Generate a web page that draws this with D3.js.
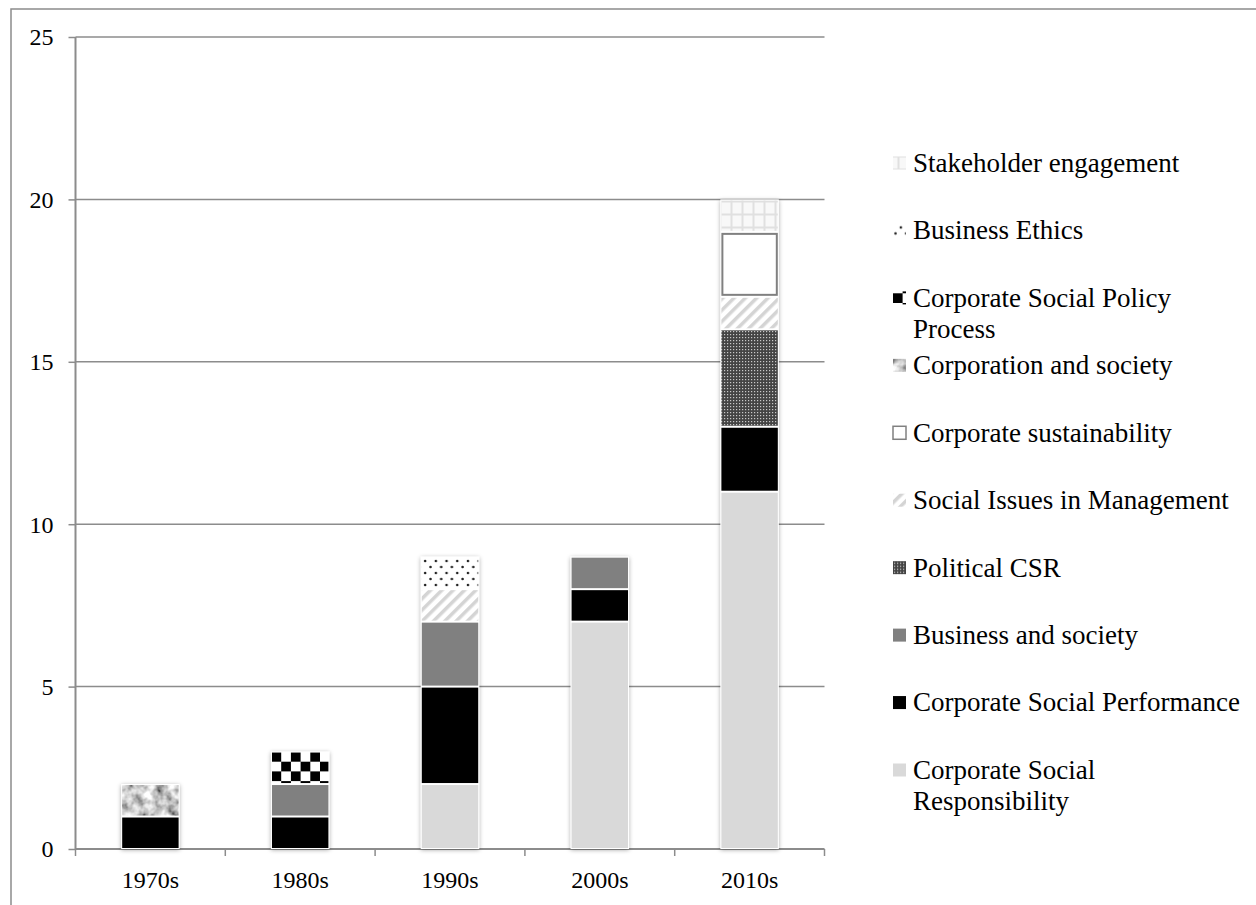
<!DOCTYPE html>
<html>
<head>
<meta charset="utf-8">
<script src="https://cdn.jsdelivr.net/npm/d3@7"></script>
<style>
  body { margin: 0; background: #fff; }
  svg { display: block; font-family: "Liberation Serif", "DejaVu Serif", serif; }
</style>
</head>
<body>
<svg id="chart" width="1256" height="905"></svg>
<script>
// data
var decades = ["1970s", "1980s", "1990s", "2000s", "2010s"];
var csr     = [0, 0, 2, 7, 11];   // Corporate Social Responsibility
var csp     = [1, 1, 3, 1, 2];    // Corporate Social Performance
var bizSoc  = [0, 1, 2, 1, 0];    // Business and society
var polCsr  = [0, 0, 0, 0, 3];    // Political CSR
var sim     = [0, 0, 1, 0, 1];    // Social Issues in Management
var sust    = [0, 0, 0, 0, 2];    // Corporate sustainability
var corpSoc = [1, 0, 0, 0, 0];    // Corporation and society
var cspp    = [0, 1, 0, 0, 0];    // Corporate Social Policy Process
var ethics  = [0, 0, 1, 0, 0];    // Business Ethics
var stake   = [0, 0, 0, 0, 1];    // Stakeholder engagement
var yTicks  = [0, 5, 10, 15, 20, 25];

// bottom to top of the stack
var series = [
  {key: "csr",     label: ["Corporate Social", "Responsibility"], vals: csr,     fill: "#d9d9d9"},
  {key: "csp",     label: ["Corporate Social Performance"],       vals: csp,     fill: "#000"},
  {key: "bizSoc",  label: ["Business and society"],               vals: bizSoc,  fill: "#808080"},
  {key: "polCsr",  label: ["Political CSR"],                      vals: polCsr,  fill: "url(#pPol)"},
  {key: "sim",     label: ["Social Issues in Management"],        vals: sim,     fill: "url(#pSim)"},
  {key: "sust",    label: ["Corporate sustainability"],           vals: sust,    fill: "#fff", edge: "#808080"},
  {key: "corpSoc", label: ["Corporation and society"],            vals: corpSoc, fill: "#9a9a9a", marble: true},
  {key: "cspp",    label: ["Corporate Social Policy", "Process"], vals: cspp,    fill: "url(#pChk)"},
  {key: "ethics",  label: ["Business Ethics"],                    vals: ethics,  fill: "url(#pDot)"},
  {key: "stake",   label: ["Stakeholder engagement"],             vals: stake,   fill: "url(#pGrid)"}
];

var rows = decades.map(function(d, i){
  var r = {decade: d};
  series.forEach(function(s){ r[s.key] = s.vals[i]; });
  return r;
});

var svg = d3.select("#chart");
var pLeft = 75.5, pRight = 824.5, pTop = 37, pBottom = 849;

var x = d3.scaleBand().domain(decades).range([pLeft, pRight]).paddingInner(0.61).paddingOuter(0.305);
var xb = d3.scaleBand().domain(decades).range([pLeft, pRight]);
var y = d3.scaleLinear().domain([0, 25]).range([pBottom, pTop]);

// ---- patterns / filters
var defs = svg.append("defs");
var f = defs.append("filter").attr("id", "shadow").attr("x", "-30%").attr("y", "-30%").attr("width", "160%").attr("height", "160%");
f.append("feDropShadow").attr("dx", 0).attr("dy", 1).attr("stdDeviation", 2.2)
  .attr("flood-color", "#000").attr("flood-opacity", 0.35);

var m = defs.append("filter").attr("id", "marble").attr("x", 0).attr("y", 0).attr("width", 1).attr("height", 1);
m.append("feTurbulence").attr("type", "fractalNoise").attr("baseFrequency", 0.09).attr("numOctaves", 3).attr("seed", 4).attr("result", "n");
m.append("feColorMatrix").attr("in", "n").attr("type", "matrix")
  .attr("values", "1.7 0 0 0 -0.28  1.7 0 0 0 -0.28  1.7 0 0 0 -0.28  0 0 0 0 1").attr("result", "g");
m.append("feComposite").attr("in", "g").attr("in2", "SourceGraphic").attr("operator", "in");

var p = defs.append("pattern").attr("id", "pPol").attr("patternUnits", "userSpaceOnUse").attr("width", 3).attr("height", 3);
p.append("rect").attr("width", 3).attr("height", 3).attr("fill", "#444");
p.append("rect").attr("x", 1).attr("y", 1).attr("width", 1.2).attr("height", 1.2).attr("fill", "#c8c8c8");

p = defs.append("pattern").attr("id", "pSim").attr("patternUnits", "userSpaceOnUse").attr("width", 8).attr("height", 8)
  .attr("patternTransform", "rotate(45)");
p.append("rect").attr("width", 8).attr("height", 8).attr("fill", "#fff");
p.append("rect").attr("width", 3.5).attr("height", 8).attr("fill", "#d4d4d4");

p = defs.append("pattern").attr("id", "pChk").attr("patternUnits", "userSpaceOnUse").attr("width", 19.4).attr("height", 19.4)
  .attr("x", 271.5).attr("y", 752);
p.append("rect").attr("width", 19.4).attr("height", 19.4).attr("fill", "#fff");
p.append("rect").attr("width", 9.7).attr("height", 9.7).attr("fill", "#000");
p.append("rect").attr("x", 9.7).attr("y", 9.7).attr("width", 9.7).attr("height", 9.7).attr("fill", "#000");

p = defs.append("pattern").attr("id", "pDot").attr("patternUnits", "userSpaceOnUse").attr("width", 10.7).attr("height", 12);
p.append("rect").attr("width", 10.7).attr("height", 12).attr("fill", "#fff");
p.append("circle").attr("cx", 2.5).attr("cy", 3).attr("r", 1.3).attr("fill", "#222");
p.append("circle").attr("cx", 7.85).attr("cy", 9).attr("r", 1.3).attr("fill", "#222");

p = defs.append("pattern").attr("id", "pGrid").attr("patternUnits", "userSpaceOnUse").attr("width", 11).attr("height", 13);
p.append("rect").attr("width", 11).attr("height", 13).attr("fill", "#f8f8f8");
p.append("rect").attr("x", 4.5).attr("width", 2).attr("height", 13).attr("fill", "#e0e0e0");
p.append("rect").attr("y", 5.5).attr("width", 11).attr("height", 2).attr("fill", "#e0e0e0");

// ---- frame
svg.append("rect").attr("x", 11).attr("y", 9).attr("width", 1260).attr("height", 920)
  .attr("fill", "none").attr("stroke", "#8c8c8c").attr("stroke-width", 1.5);

// gridlines
svg.append("g").selectAll("line").data(yTicks.slice(1)).join("line")
  .attr("x1", pLeft).attr("x2", pRight)
  .attr("y1", function(d){ return y(d); }).attr("y2", function(d){ return y(d); })
  .attr("stroke", "#8c8c8c").attr("stroke-width", 1.5);

// y axis
var yAxis = svg.append("g").attr("transform", "translate(" + pLeft + ",0)")
  .call(d3.axisLeft(y).tickValues(yTicks).tickSize(7).tickPadding(15));
yAxis.select(".domain").attr("stroke", "#8c8c8c").attr("stroke-width", 2).attr("d", "M0," + y(0) + "V" + pTop);
yAxis.selectAll(".tick line").attr("stroke", "#8c8c8c").attr("stroke-width", 1.5);
yAxis.selectAll("text").attr("font-size", 24).attr("font-family", "Liberation Serif").attr("fill", "#000").attr("dy", "0.33em");

// x axis
var xg = svg.append("g").attr("transform", "translate(0," + pBottom + ")");
xg.append("line").attr("x1", pLeft).attr("x2", pRight).attr("stroke", "#8c8c8c").attr("stroke-width", 2);
var bounds = [pLeft].concat(decades.map(function(d){ return xb(d) + xb.bandwidth(); }));
xg.selectAll("line.tk").data(bounds).join("line").attr("class", "tk")
  .attr("x1", function(d){ return d; }).attr("x2", function(d){ return d; })
  .attr("y1", 0).attr("y2", 7).attr("stroke", "#8c8c8c").attr("stroke-width", 1.5);
xg.selectAll("text").data(decades).join("text")
  .attr("x", function(d){ return xb(d) + xb.bandwidth() / 2; }).attr("y", 39)
  .attr("text-anchor", "middle").attr("font-size", 24).text(function(d){ return d; });

// ---- bars
var stack = d3.stack().keys(series.map(function(s){ return s.key; }));
var stacked = stack(rows);

// shadow under each column
svg.append("g").selectAll("rect").data(rows).join("rect")
  .attr("x", function(d){ return x(d.decade); })
  .attr("width", x.bandwidth())
  .attr("y", function(d, i){ return y(d3.sum(series, function(s){ return s.vals[i]; })); })
  .attr("height", function(d, i){ return y(0) - y(d3.sum(series, function(s){ return s.vals[i]; })); })
  .attr("fill", "#fff").attr("filter", "url(#shadow)");

var layer = svg.append("g").selectAll("g").data(stacked).join("g");
layer.each(function(ser, si){
  var s = series[si];
  var g = d3.select(this);
  var segs = ser.filter(function(d){ return d[1] > d[0]; });
  g.selectAll("rect.seg").data(segs).join("rect").attr("class", "seg")
    .attr("x", function(d){ return x(d.data.decade) + 1; })
    .attr("width", x.bandwidth() - 2)
    .attr("y", function(d){ return y(d[1]) + 1; })
    .attr("height", function(d){ return y(d[0]) - y(d[1]) - 2; })
    .attr("fill", s.fill)
    .attr("filter", s.marble ? "url(#marble)" : null);
  if (s.edge) {
    g.selectAll("rect.edge").data(segs).join("rect").attr("class", "edge")
      .attr("x", function(d){ return x(d.data.decade) + 2; })
      .attr("width", x.bandwidth() - 4)
      .attr("y", function(d){ return y(d[1]) + 2; })
      .attr("height", function(d){ return y(d[0]) - y(d[1]) - 4; })
      .attr("fill", "none").attr("stroke", s.edge).attr("stroke-width", 2);
  }
});

// ---- legend (top to bottom is reverse of stack)
var legendItems = series.slice().reverse();
var ly = d3.scalePoint().domain(legendItems.map(function(s){ return s.key; })).range([163, 770]);
var lg = svg.append("g").selectAll("g").data(legendItems).join("g")
  .attr("transform", function(s){ return "translate(893," + ly(s.key) + ")"; });
lg.append("rect").attr("x", 0).attr("y", -6.5).attr("width", 13).attr("height", 13)
  .attr("fill", function(s){ return s.fill; })
  .attr("filter", function(s){ return s.marble ? "url(#marble)" : null; })
  .attr("stroke", function(s){ return s.edge || null; }).attr("stroke-width", 1.5);
lg.append("text").attr("x", 20).attr("font-size", 27)
  .selectAll("tspan").data(function(s){ return s.label; }).join("tspan")
  .attr("x", 20).attr("dy", function(d, i){ return i === 0 ? "0.33em" : "1.15em"; })
  .text(function(d){ return d; });
</script>
</body>
</html>
